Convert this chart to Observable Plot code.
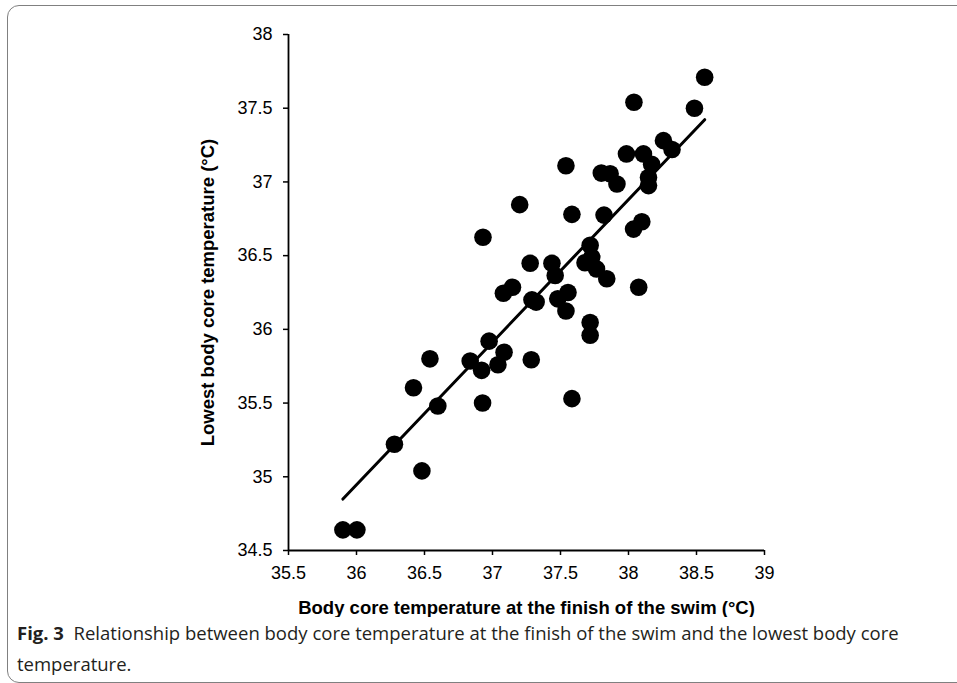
<!DOCTYPE html>
<html>
<head>
<meta charset="utf-8">
<script src="https://cdn.jsdelivr.net/npm/d3@7"></script>
<script src="https://cdn.jsdelivr.net/npm/@observablehq/plot@0.6"></script>
<style>
  html, body { margin: 0; padding: 0; background: #fff; }
  #wrap { position: relative; width: 957px; height: 683px; overflow: hidden; }
  #frame { position: absolute; left: 7px; top: 5px; width: 1000px; height: 678px;
           border: 1px solid #808080; border-radius: 12px; box-sizing: border-box; }
  #chart { position: absolute; left: 0; top: 0; }
  #caption { position: absolute; left: 17px; top: 617px; white-space: nowrap;
             font-family: "Open Sans", "Noto Sans", sans-serif; font-size: 18.5px;
             line-height: 31px; color: #231f20; }
  #caption b { font-weight: 700; }
  g[aria-label="x-axis label"] text, g[aria-label="y-axis label"] text { font-weight: bold; font-size: 18.5px; }
</style>
</head>
<body>
<div id="wrap">
  <div id="frame"></div>
  <div id="chart"></div>
  <div id="caption"><b>Fig. 3</b>&nbsp; Relationship between body core temperature at the finish of the swim and the lowest body core<br>temperature.</div>
</div>
<script>
// Body core temperature at the finish of the swim (°C)
const finishTemp = [
  38.56, 38.04, 38.485, 38.257, 38.32, 37.985, 38.11, 38.17, 38.147, 38.147,
  37.54, 37.80, 37.865, 37.915, 37.20, 37.584, 37.82, 38.098, 38.037, 36.93,
  37.718, 37.277, 37.437, 37.68, 37.73, 37.765, 37.84, 37.461, 38.075, 37.08,
  37.147, 37.555, 37.48, 37.29, 37.321, 37.54, 37.718, 37.718, 36.975, 37.085,
  36.836, 36.92, 37.04, 36.54, 37.285, 36.419, 36.598, 36.927, 37.584, 36.279,
  36.481, 35.90, 36.003
];
// Lowest body core temperature (°C)
const lowestTemp = [
  37.71, 37.54, 37.50, 37.28, 37.22, 37.19, 37.19, 37.12, 37.03, 36.975,
  37.11, 37.06, 37.055, 36.986, 36.846, 36.78, 36.775, 36.73, 36.68, 36.625,
  36.57, 36.448, 36.448, 36.452, 36.49, 36.41, 36.343, 36.365, 36.286, 36.245,
  36.286, 36.25, 36.207, 36.2, 36.185, 36.125, 36.047, 35.96, 35.92, 35.845,
  35.785, 35.722, 35.76, 35.80, 35.794, 35.604, 35.48, 35.50, 35.53, 35.221,
  35.04, 34.64, 34.64
];
// Linear trend line
const trendSlope = 0.9674;
const trendIntercept = 0.1193;

const xTicks = [35.5, 36, 36.5, 37, 37.5, 38, 38.5, 39];
const yTicks = [34.5, 35, 35.5, 36, 36.5, 37, 37.5, 38];
const xLabel = "Body core temperature at the finish of the swim (°C)";
const yLabel = "Lowest body core temperature (°C)";

const data = finishTemp.map((x, i) => ({x, y: lowestTemp[i]}));
const trend = d3.extent(finishTemp).map(x => ({x, y: trendIntercept + trendSlope * x}));

const chart = Plot.plot({
  width: 957,
  height: 617,
  marginLeft: 288,
  marginRight: 193,
  marginTop: 34,
  marginBottom: 67,
  style: {fontFamily: "'Liberation Sans', Arial, sans-serif", fontSize: "18px", color: "#000", background: "transparent"},
  x: {domain: [35.5, 39]},
  y: {domain: [34.5, 38]},
  marks: [
    Plot.axisX({ticks: xTicks, tickFormat: d => String(d), tickSize: 5, tickPadding: 11, strokeWidth: 1.5,
      fontSize: 18, label: xLabel, labelAnchor: "center", labelArrow: "none", labelOffset: 63}),
    Plot.axisY({ticks: yTicks, tickFormat: d => String(d), tickSize: 5, tickPadding: 11, strokeWidth: 1.5,
      fontSize: 18, label: yLabel, labelAnchor: "center", labelArrow: "none", labelOffset: 88}),
    Plot.ruleX([35.5], {stroke: "#000", strokeWidth: 1.8}),
    Plot.ruleY([34.5], {stroke: "#000", strokeWidth: 1.8}),
    Plot.line(trend, {x: "x", y: "y", stroke: "#000", strokeWidth: 3}),
    Plot.dot(data, {x: "x", y: "y", r: 8.8, fill: "#000", stroke: "none"})
  ]
});
document.getElementById("chart").appendChild(chart);
</script>
</body>
</html>
